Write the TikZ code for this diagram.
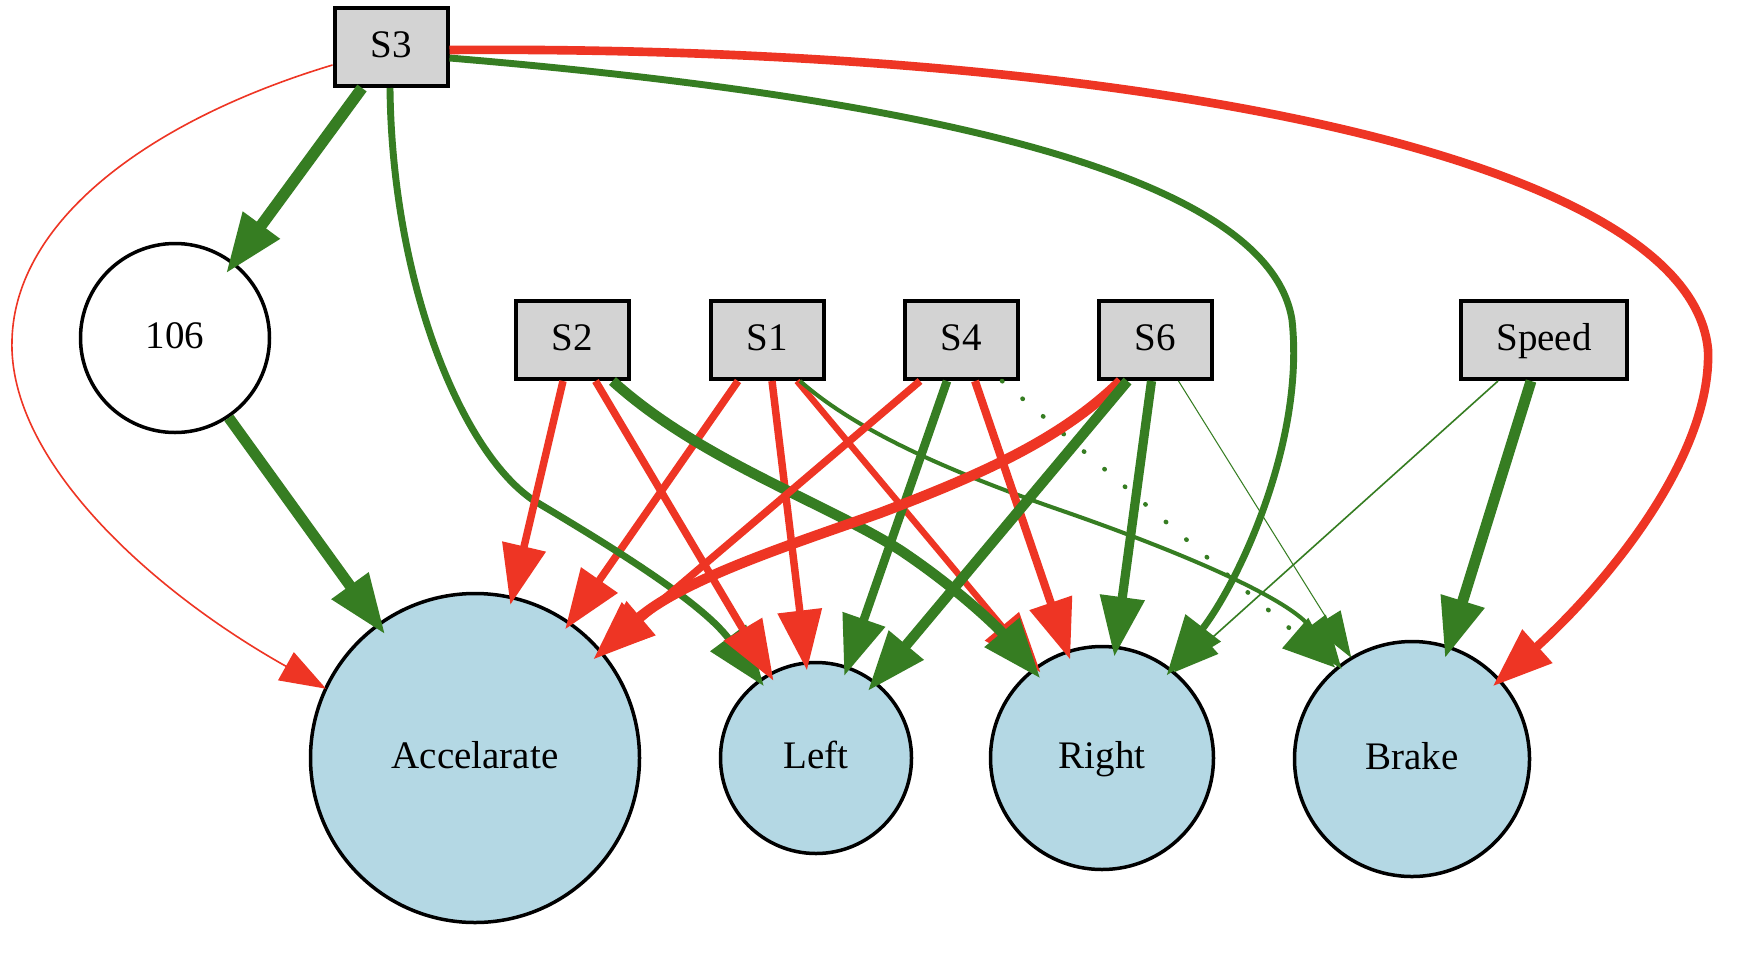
\documentclass[tikz,border=0pt]{standalone}
\usepackage{fontspec}
\setmainfont{Liberation Serif}
\usetikzlibrary{arrows.meta}

\definecolor{posw}{RGB}{54,125,34}
\definecolor{negw}{RGB}{238,53,36}
\definecolor{boxgray}{RGB}{211,211,211}
\definecolor{outblue}{RGB}{180,216,228}

\begin{document}
\begin{tikzpicture}[x=1pt,y=-1pt,
  every node/.style={font=\fontsize{39}{47}\selectfont, inner sep=0pt, text height=28pt, text depth=8pt},
  sensor/.style={rectangle, draw=black, line width=4pt, fill=boxgray, minimum width=113pt, minimum height=78pt},
  hiddenunit/.style={circle, draw=black, line width=3.5pt, fill=white, minimum size=189pt},
  outunit/.style={circle, draw=black, line width=3.5pt, fill=outblue},
  lw/.style={line width=1.15*#1pt, shorten >=-1.4*#1pt},
  big/.style={-{Triangle[length=60pt,width=43pt]}},
  mid/.style={-{Triangle[length=53pt,width=39pt]}},
  small/.style={-{Triangle[length=46pt,width=32pt]}}]

\fill[white] (0,0) rectangle (1744,970);
\useasboundingbox (0,0) rectangle (1744,970);

% input sensors
\node[sensor] (S3) at (391,47) {S3};
\node[sensor] (S2) at (572.5,340) {S2};
\node[sensor] (S1) at (767,340) {S1};
\node[sensor] (S4) at (961,340) {S4};
\node[sensor] (S6) at (1155.5,340) {S6};
\node[sensor, minimum width=166pt] (Speed) at (1544,340) {Speed};

% hidden unit
\node[hiddenunit] (H106) at (175,338) {106};

% outputs
\node[outunit, minimum size=329pt] (Acc) at (475,758) {Accelarate};
\node[outunit, minimum size=191pt] (Left) at (816,758) {Left};
\node[outunit, minimum size=223pt] (Right) at (1102,758) {Right};
\node[outunit, minimum size=235pt] (Brake) at (1412,759) {Brake};

% connections from S1
\draw[negw, lw=6.5, big] ([xshift=-29pt]S1.south) -- (Acc.55);
\draw[negw, lw=6.5, big] ([xshift=5pt]S1.south) -- (Left.96);
\draw[negw, lw=5.5, big] ([xshift=30pt]S1.south) -- (Right.126);
\draw[posw, lw=3.5, mid] ([xshift=33pt]S1.south) .. controls (850,425) and (930,465) .. (1060,510)
  .. controls (1190,555) and (1290,600) .. (Brake.128);

% connections from S3
\draw[negw, lw=1.4, small] ([yshift=-18pt]S3.west) .. controls (150,120) and (15,220) .. (12,340)
  .. controls (8,460) and (150,590) .. (Acc.155);
\draw[posw, lw=10, big] ([xshift=-29pt]S3.south) -- (H106.52);
\draw[posw, lw=6, big] ([xshift=-1pt]S3.south) .. controls (392,280) and (460,450) .. (533,500)
  .. controls (600,540) and (700,600) .. (Left.126);
\draw[posw, lw=6, big] ([yshift=-11pt]S3.east) .. controls (950,100) and (1270,180) .. (1292,320)
  .. controls (1305,440) and (1240,580) .. (Right.52);
\draw[negw, lw=7.5, big] ([yshift=-3pt]S3.east) .. controls (1100,45) and (1690,150) .. (1708,350)
  .. controls (1712,460) and (1600,590) .. (Brake.42);

% connections from S2
\draw[posw, lw=9, big] ([xshift=40pt]S2.south) .. controls (700,460) and (820,500) .. (900,550)
  .. controls (960,590) and (1000,630) .. (Right.128);
\draw[negw, lw=6.5, big] ([xshift=-9.5pt]S2.south) -- (Acc.77);
\draw[negw, lw=6.5, big] ([xshift=23pt]S2.south) -- (Left.119);

% connections from S4 (the one to Brake is disabled, drawn dotted)
\draw[negw, lw=6.5, big] ([xshift=-41pt]S4.south) -- (Acc.40);
\draw[posw, lw=7.5, big] ([xshift=-14pt]S4.south) -- (Left.71);
\draw[negw, lw=7, big] ([xshift=14pt]S4.south) -- (Right.108);
\draw[posw, line width=4.5pt, dash pattern=on 0.5pt off 26.5pt, line cap=round, mid] ([xshift=41pt]S4.south) -- (Brake.130);

% connections from S6
\draw[negw, lw=9, big] ([xshift=-35pt]S6.south) .. controls (1060,440) and (980,475) .. (880,513)
  .. controls (790,545) and (680,580) .. (Acc.40);
\draw[posw, lw=9, big] ([xshift=-28pt]S6.south) -- (Left.52);
\draw[posw, lw=8, big] ([xshift=-4pt]S6.south) -- (Right.83);
\draw[posw, lw=0.9, small] ([xshift=23pt]S6.south) -- (Brake.121);

% connections from Speed
\draw[posw, lw=1.4, small] ([xshift=-46pt]Speed.south) -- (Right.50);
\draw[posw, lw=9.5, big] ([xshift=-13pt]Speed.south) -- (Brake.72);

% connection from the hidden unit
\draw[posw, lw=9.5, big] (H106.304) -- (Acc.126);

\end{tikzpicture}
\end{document}
